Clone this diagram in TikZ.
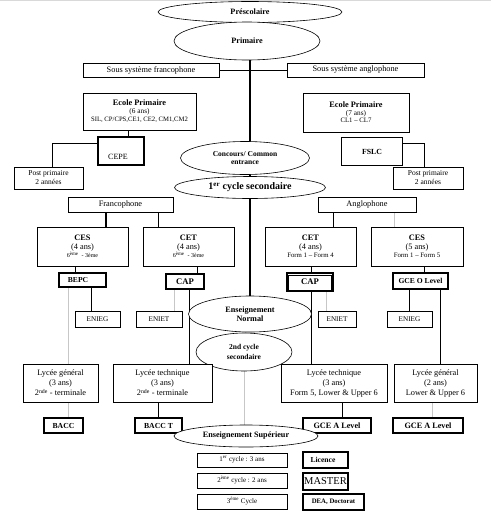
\documentclass[tikz,border=0pt]{standalone}
\usepackage{fontspec}
\setmainfont{Liberation Serif}
\usetikzlibrary{shapes.geometric,backgrounds,calc}
\newcommand\sz[2]{\fontsize{#1}{#2}\selectfont}
\begin{document}
\begin{tikzpicture}[x=1pt,y=-1pt,
  box/.style={draw, rectangle, fill=white, inner sep=0pt, align=center, line width=0.6pt, font=\sz{8.3}{9}},
  tbox/.style={box, line width=1.7pt},
  ell/.style={draw, ellipse, fill=white, inner sep=0pt, align=center, line width=0.6pt, font=\bfseries\sz{8.2}{9}},
  ln/.style={line width=0.7pt},
  gln/.style={line width=0.9pt, draw=black!22},
  tln/.style={line width=2pt}]
\useasboundingbox (0,0) rectangle (491,512);
\fill[black!15] (0,0) rectangle (491,1.3);

% top
\node[ell, minimum width=184pt, minimum height=21pt] (pre) at (250,12) {Préscolaire};
\node[ell, minimum width=146pt, minimum height=38pt] (prim) at (247,41) {Primaire};
\node[box, minimum width=136pt, minimum height=14pt] (sfr) at (151,70) {Sous système francophone};
\node[box, minimum width=137pt, minimum height=14pt] (sang) at (355.5,70) {Sous système anglophone};

\node[box, minimum width=113pt, minimum height=37pt, font=\sz{8.3}{8}] (epl) at (139.5,111.5)
  {\textbf{Ecole Primaire}\\ {\sz{7.3}{8}(6 ans)}\\ {\sz{6.7}{8}SIL, CP/CPS,CE1, CE2, CM1,CM2}};
\node[box, minimum width=106pt, minimum height=39pt, font=\sz{8.3}{8}] (epr) at (356,112.5)
  {\textbf{Ecole Primaire}\\ {\sz{7.3}{8}(7 ans)}\\[-1pt] {\sz{6.8}{8}CL1 -- CL7}};

\node[tbox, minimum width=46pt, minimum height=28pt] (cepe) at (121,151) {};
\node[font=\sz{8}{9}, inner sep=0pt] (cepetxt) at (118,157) {CEPE};
\node[tbox, minimum width=61pt, minimum height=28pt, font=\bfseries\sz{7.8}{9}] (fslc) at (372,151.5) {FSLC};
\node[ell, minimum width=129pt, minimum height=33pt, font=\bfseries\sz{7.5}{8.3}] (conc) at (245,158) {Concours/ Common\\entrance};
\node[box, minimum width=69pt, minimum height=22pt, font=\sz{7.5}{9}] (ppl) at (48.5,178) {Post primaire\\2 années};
\node[box, minimum width=70pt, minimum height=22pt, font=\sz{7.5}{9}] (ppr) at (428,178) {Post primaire\\2 années};

\node[ell, minimum width=151pt, minimum height=22pt, font=\bfseries\sz{10}{11}] (cyc1) at (250,187.5) {1\textsuperscript{er} cycle secondaire};
\node[box, minimum width=105pt, minimum height=15pt] (fra) at (120.5,204.5) {Francophone};
\node[box, minimum width=98pt, minimum height=15pt] (ang) at (367,204.5) {Anglophone};

% first cycle
\node[box, minimum width=91pt, minimum height=39pt] (ces1) at (82.5,246.5)
  {\textbf{CES}\\ (4 ans)\\[-1pt] {\sz{6}{8}6\textsuperscript{ème}\ \ - 3ème}};
\node[box, minimum width=91pt, minimum height=39pt] (cet1) at (188.5,246.5)
  {\textbf{CET}\\ (4 ans)\\[-1pt] {\sz{6}{8}6\textsuperscript{ème}\ \ - 3ème}};
\node[box, minimum width=91pt, minimum height=39pt] (cet2) at (310.5,246.5)
  {\textbf{CET}\\ (4 ans)\\[-1pt] {\sz{6.8}{8}Form 1 -- Form 4}};
\node[box, minimum width=92pt, minimum height=39pt] (ces2) at (417,246.5)
  {\textbf{CES}\\ (5 ans)\\[-1pt] {\sz{6.8}{8}Form 1 -- Form 5}};

\node[tbox, minimum width=47pt, minimum height=14pt, font=\bfseries\sz{7.6}{8.5}] (bepc) at (82.5,280) {BEPC\hspace{9pt}};
\node[tbox, minimum width=38pt, minimum height=15pt, font=\bfseries\sz{8.6}{9.5}] (cap1) at (185,281.5) {CAP};
\node[tbox, minimum width=46pt, minimum height=18pt, font=\bfseries\sz{8.6}{9.5}] (cap2) at (310,282) {CAP};
\draw[ln] ([shift={(2.5pt,-3pt)}]cap2.north west) rectangle ([shift={(-2.5pt,2pt)}]cap2.south east);
\node[tbox, minimum width=55pt, minimum height=16pt, font=\bfseries\sz{7.6}{8.5}] (gceo) at (420.5,281) {GCE O Level};

\node[box, minimum width=45pt, minimum height=16pt, font=\sz{7.2}{8}] (enieg1) at (97.5,319) {ENIEG};
\node[box, minimum width=46pt, minimum height=16pt, font=\sz{7.2}{8}] (eniet1) at (159,319) {ENIET};
\node[box, minimum width=38pt, minimum height=16pt, font=\sz{7.2}{8}] (eniet2) at (337,319) {ENIET};
\node[box, minimum width=45pt, minimum height=16pt, font=\sz{7.2}{8}] (enieg2) at (409.5,319) {ENIEG};

\node[ell, minimum width=123pt, minimum height=36pt, font=\bfseries\sz{8.2}{9}] (norm) at (250,314) {Enseignement\\Normal};
\node[ell, minimum width=96pt, minimum height=38pt, font=\bfseries\sz{7.5}{10}] (cyc2) at (244,352) {2nd cycle\\secondaire};

% second cycle
\node[box, minimum width=75pt, minimum height=38pt, font=\sz{8.3}{10}] (lg1) at (60.5,383)
  {Lycée général\\(3 ans)\\2\textsuperscript{nde} - terminale};
\node[box, minimum width=99pt, minimum height=38pt, font=\sz{8.3}{10}] (lt1) at (162.5,383)
  {Lycée technique\\(3 ans)\\2\textsuperscript{nde} - terminale};
\node[box, minimum width=106pt, minimum height=38pt, font=\sz{8.3}{10}] (lt2) at (334,383)
  {Lycée technique\\(3 ans)\\Form 5, Lower \& Upper 6};
\node[box, minimum width=83pt, minimum height=38pt, font=\sz{8.3}{10}] (lg2) at (435.5,383)
  {Lycée général\\(2 ans)\\Lower \& Upper 6};

\node[tbox, minimum width=39pt, minimum height=15pt, font=\bfseries\sz{7.7}{8.5}] (bacc) at (63.5,425.5) {BACC};
\node[tbox, minimum width=47pt, minimum height=15pt, font=\bfseries\sz{7.7}{8.5}] (bacct) at (158.5,425.5) {BACC T};
\node[tbox, minimum width=68pt, minimum height=15pt, font=\bfseries\sz{8.2}{9}] (gcea1) at (337,425.5) {GCE A Level};
\node[tbox, minimum width=70pt, minimum height=15pt, font=\bfseries\sz{8.2}{9}] (gcea2) at (428,425.5) {GCE A Level};

\node[ell, minimum width=144pt, minimum height=22pt, font=\bfseries\sz{8.2}{9}] (sup) at (246,436) {Enseignement Supérieur};

% higher education
\node[box, minimum width=90pt, minimum height=14pt, font=\sz{7}{8}] (c1) at (242,460) {1\textsuperscript{er} cycle : 3 ans};
\node[box, minimum width=90pt, minimum height=15pt, font=\sz{7}{8}] (c2) at (242,480.5) {2\textsuperscript{ème} cycle : 2 ans};
\node[box, minimum width=90pt, minimum height=15pt, font=\sz{7}{8}] (c3) at (242,501.5) {3\textsuperscript{ème} Cycle};
\node[tbox, minimum width=45pt, minimum height=16pt, font=\bfseries\sz{7.6}{8.5}] (lic) at (325.5,460) {Licence\hspace{5pt}};
\node[tbox, minimum width=45pt, minimum height=17pt, font=\sz{10.5}{11}] (mas) at (325.5,481.5) {MASTER};
\node[tbox, minimum width=61pt, minimum height=16pt, font=\bfseries\sz{6.8}{8}] (dea) at (333.5,502) {DEA, Doctorat};

\begin{pgfonlayer}{background}
\draw[tln] (pre) -- (norm);
\draw[ln] (sfr.east) -- (sang.west);
\draw[ln] ([xshift=7pt]cepe.north) -- ([xshift=7pt]cepe.north |- epl.south);
\draw[ln] ([yshift=-7pt]cepe.north west) -| ([xshift=3.5pt]ppl.north);
\draw[ln] ([yshift=-7pt]fslc.north east) -| ([xshift=-4pt]ppr.north);
\draw[tln] ([xshift=23.5pt]ces1.north) -- ([xshift=23.5pt]ces1.north |- fra.south);
\draw[ln] ([xshift=-30.5pt]cet1.north) -- ([xshift=-30.5pt]cet1.north |- fra.south);
\draw[ln] ([xshift=22.5pt]cet2.north) -- ([xshift=22.5pt]cet2.north |- ang.south);
\draw[gln] ([xshift=-23pt]ces2.north) -- ([xshift=-23pt]ces2.north |- ang.south);
\draw[ln] ([xshift=-7.5pt]bepc.north) -- ([xshift=-7.5pt]bepc.north |- ces1.south);
\draw[ln] ([xshift=-6.5pt]enieg1.north) -- ([xshift=-6.5pt]enieg1.north |- bepc.south);
\draw[gln] ([xshift=7.5pt]lg1.north) -- ([xshift=7.5pt]lg1.north |- bepc.south);
\draw[ln] ([xshift=12pt]cap1.north) -- ([xshift=12pt]cap1.north |- cet1.south);
\draw[gln] ([xshift=15pt]eniet1.north) -- ([xshift=15pt]eniet1.north |- cap1.south);
\draw[ln] ([xshift=26.5pt]lt1.north) -- ([xshift=26.5pt]lt1.north |- cap1.south);
\draw[ln] ([xshift=1pt]cap2.north) -- ([xshift=1pt]cap2.north |- cet2.south);
\draw[gln] ([xshift=-11pt]eniet2.north) -- ([xshift=-11pt]eniet2.north |- cap2.south);
\draw[ln] ([xshift=-23pt]lt2.north) -- ([xshift=-23pt]lt2.north |- cap2.south);
\draw[ln] ([xshift=3.5pt]gceo.north) -- ([xshift=3.5pt]gceo.north |- ces2.south);
\draw[ln] (enieg2.north) -- (enieg2.north |- gceo.south);
\draw[ln] ([xshift=4.5pt]lg2.north) -- ([xshift=4.5pt]lg2.north |- gceo.south);
\draw[gln] ([xshift=-2pt]sup.north) -- ([xshift=-2pt]sup.north |- cyc2.south);
\draw[gln] ([xshift=4.5pt]bacc.north) -- ([xshift=4.5pt]bacc.north |- lg1.south);
\draw[ln] (bacct.north) -- (bacct.north |- lt1.south);
\draw[ln] ([xshift=5pt]gcea1.north) -- ([xshift=5pt]gcea1.north |- lt2.south);
\draw[gln] ([xshift=4pt]gcea2.north) -- ([xshift=4pt]gcea2.north |- lg2.south);
\end{pgfonlayer}
\end{tikzpicture}
\end{document}
